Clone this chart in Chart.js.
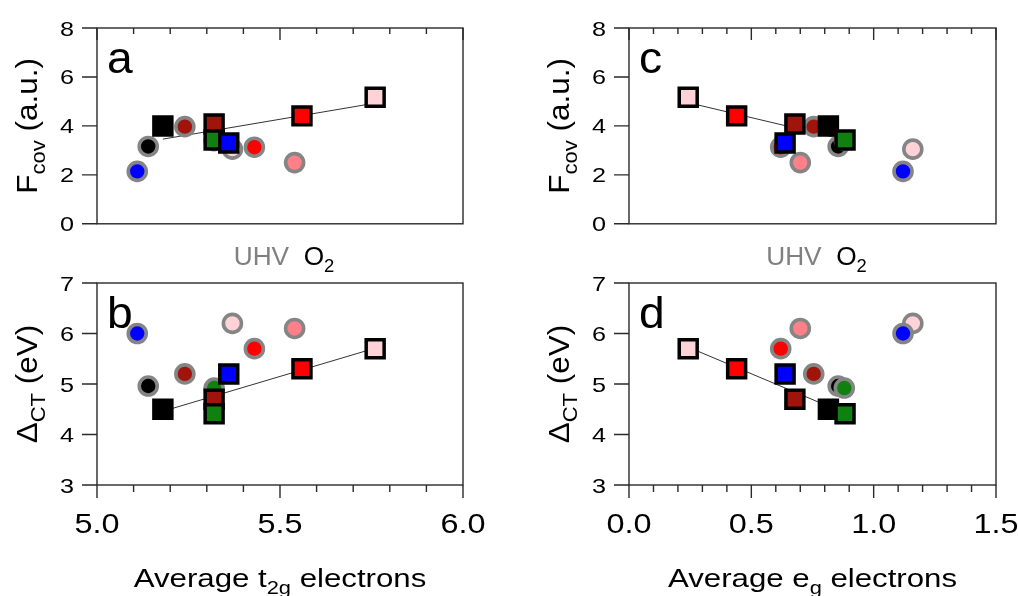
<!DOCTYPE html>
<html>
<head>
<meta charset="utf-8">
<script src="https://cdn.jsdelivr.net/npm/chart.js@4.4.1/dist/chart.umd.min.js"></script>
<style>
  html, body { margin: 0; padding: 0; background: #ffffff; }
  body { width: 1018px; height: 596px; position: relative; overflow: hidden; }
  canvas { position: absolute; }
</style>
</head>
<body>
<canvas id="pa" width="500" height="240" style="left:0px;top:0px"></canvas>
<canvas id="pb" width="500" height="356" style="left:0px;top:240px"></canvas>
<canvas id="pc" width="518" height="240" style="left:500px;top:0px"></canvas>
<canvas id="pd" width="518" height="356" style="left:500px;top:240px"></canvas>
<script>
// ---------------- data ----------------
// samples, identified by their marker colour
const samples      = ['pink', 'salmon', 'red', 'darkred', 'black', 'green', 'blue'];
const sampleColors = ['#ffd2d8', '#ff8088', '#ff0000', '#a0140c', '#000000', '#108010', '#0000ff'];

// UHV (grey-ringed circles)
const t2gUHV  = [5.37, 5.54, 5.43, 5.24, 5.14, 5.32, 5.11];
const egUHV   = [1.16, 0.70, 0.62, 0.755, 0.855, 0.88, 1.12];
const fcovUHV = [3.05, 2.50, 3.13, 3.97, 3.16, 3.40, 2.14];
const dctUHV  = [6.20, 6.10, 5.70, 5.20, 4.96, 4.92, 6.00];

// O2 (black-framed squares); salmon sample has no O2 point
const t2gO2   = [5.76, null, 5.56, 5.32, 5.18, 5.32, 5.36];
const egO2    = [0.242, null, 0.44, 0.678, 0.815, 0.883, 0.638];
const fcovO2  = [5.17, null, 4.41, 4.08, 4.00, 3.42, 3.30];
const dctO2   = [5.70, null, 5.30, 4.70, 4.50, 4.41, 5.20];

// linear-fit lines through the O2 points (end points)
const fitT2gX    = [5.18, 5.76];
const fitFcovT2g = [3.46, 4.93];
const fitDctT2g  = [4.46, 5.71];
const fitEgX     = [0.242, 0.883];
const fitFcovEg  = [4.95, 3.43];
const fitDctEg   = [5.73, 4.42];

// tick labels
const t2gTicks  = [5.0, 5.5, 6.0];
const t2gMinor  = [5.1, 5.2, 5.3, 5.4, 5.6, 5.7, 5.8, 5.9];
const egTicks   = [0.0, 0.5, 1.0, 1.5];
const egMinor   = [0.1, 0.2, 0.3, 0.4, 0.6, 0.7, 0.8, 0.9, 1.1, 1.2, 1.3, 1.4];
const fcovTicks = [0, 2, 4, 6, 8];
const dctTicks  = [3, 4, 5, 6, 7];

// ---------------- helpers ----------------
const FONT = '"Liberation Sans", Arial, Helvetica, sans-serif';
const SUB = 0.7;

function pts(xs, ys) {
  const out = [];
  for (let i = 0; i < xs.length; i++) {
    if (xs[i] === null || ys[i] === null) continue;
    out.push({ x: xs[i], y: ys[i] });
  }
  return out;
}
function colsFor(xs) {
  const c = [];
  for (let i = 0; i < xs.length; i++) if (xs[i] !== null) c.push(sampleColors[i]);
  return c;
}

// draws rich text (with subscripts) in a local frame; (x,y) is the baseline anchor
function drawRich(ctx, parts, x, y, o) {
  const size = o.size, sx = o.sx || 1;
  ctx.save();
  ctx.translate(x, y);
  if (o.rotate) ctx.rotate(o.rotate);
  ctx.scale(sx, 1);
  ctx.textBaseline = 'alphabetic';
  ctx.textAlign = 'left';
  const widths = parts.map(p => {
    ctx.font = (p.sub ? size * SUB : size) + 'px ' + FONT;
    return ctx.measureText(p.t).width;
  });
  const total = widths.reduce((a, b) => a + b, 0);
  let cx = o.align === 'center' ? -total / 2 : (o.align === 'right' ? -total : 0);
  parts.forEach((p, i) => {
    ctx.font = (p.sub ? size * SUB : size) + 'px ' + FONT;
    ctx.fillStyle = p.color || o.color || '#000';
    ctx.fillText(p.t, cx, p.sub ? size * 0.27 : 0);
    cx += widths[i];
  });
  ctx.restore();
}

const decor = {
  id: 'decor',
  afterDraw(chart) {
    const cfg = chart.options.plugins.decor;
    const ctx = chart.ctx, a = chart.chartArea;
    const xs = chart.scales.x, ys = chart.scales.y;
    ctx.save();
    ctx.strokeStyle = '#2a2a2a';
    ctx.lineWidth = 1.4;
    ctx.strokeRect(a.left, a.top, a.right - a.left, a.bottom - a.top);
    ctx.beginPath();
    // y ticks (outward, left)
    cfg.yTicks.forEach(v => {
      const py = ys.getPixelForValue(v);
      ctx.moveTo(a.left - 15, py); ctx.lineTo(a.left, py);
    });
    // x ticks
    if (cfg.xSide === 'top') {
      cfg.xTicks.forEach(v => { const px = xs.getPixelForValue(v); ctx.moveTo(px, a.top); ctx.lineTo(px, a.top + 12); });
      cfg.xMinor.forEach(v => { const px = xs.getPixelForValue(v); ctx.moveTo(px, a.top); ctx.lineTo(px, a.top + 6); });
    } else {
      cfg.xTicks.forEach(v => { const px = xs.getPixelForValue(v); ctx.moveTo(px, a.bottom); ctx.lineTo(px, a.bottom + 13); });
      cfg.xMinor.forEach(v => { const px = xs.getPixelForValue(v); ctx.moveTo(px, a.bottom); ctx.lineTo(px, a.bottom + 7); });
    }
    ctx.stroke();
    ctx.restore();

    // y tick labels
    cfg.yTicks.forEach(v => {
      const py = ys.getPixelForValue(v);
      drawRich(ctx, [{ t: String(v) }], a.left - 23, py + 7.5, { size: 21, sx: 1.2, align: 'right' });
    });
    // x tick labels + x title
    if (cfg.xSide === 'bottom') {
      cfg.xTicks.forEach(v => {
        const px = xs.getPixelForValue(v);
        drawRich(ctx, [{ t: v.toFixed(1) }], px, a.bottom + 48, { size: 27, sx: 1.2, align: 'center' });
      });
      drawRich(ctx, cfg.xTitle, (a.left + a.right) / 2, a.bottom + 102, { size: 26, sx: 1.2, align: 'center' });
      // UHV / O2 legend text above the panel
      drawRich(ctx, [{ t: 'UHV', color: '#808080' }, { t: '  ' }, { t: 'O' }, { t: '2', sub: true }],
        (a.left + a.right) / 2 + 4, a.top - 18, { size: 25, sx: 1.05, align: 'center' });
    }
    // y title
    drawRich(ctx, cfg.yTitle, a.left - 60, (a.top + a.bottom) / 2, { size: 30, sx: 1.05, align: 'center', rotate: -Math.PI / 2 });
    // panel letter
    drawRich(ctx, [{ t: cfg.letter }], a.left + 10, a.top + cfg.letterDy, { size: 44, sx: 1.05, align: 'left' });
  }
};

function makePanel(id, o) {
  const canvas = document.getElementById(id);
  return new Chart(canvas, {
    type: 'scatter',
    data: {
      datasets: [
        {
          label: 'O2',
          data: pts(o.xO2, o.yO2),
          pointStyle: 'rect',
          pointRadius: 12.7,
          pointBorderWidth: 3.5,
          pointBackgroundColor: colsFor(o.xO2),
          pointBorderColor: '#000000',
          order: 0
        },
        {
          label: 'UHV',
          data: pts(o.xUHV, o.yUHV),
          pointStyle: 'circle',
          pointRadius: 9,
          pointBorderWidth: 3.6,
          pointBackgroundColor: colsFor(o.xUHV),
          pointBorderColor: '#858585',
          order: 1
        },
        {
          label: 'fit',
          data: pts(o.fitX, o.fitY),
          showLine: true,
          pointRadius: 0,
          borderWidth: 1,
          borderColor: '#333333',
          order: 2
        }
      ]
    },
    options: {
      responsive: false,
      animation: false,
      devicePixelRatio: 1,
      layout: { padding: { left: 0, right: o.padRight, top: o.padTop, bottom: 0 } },
      plugins: {
        legend: { display: false },
        tooltip: { enabled: false },
        decor: o.decor
      },
      scales: {
        x: {
          type: 'linear', min: o.xMin, max: o.xMax,
          ticks: { display: false }, grid: { display: false, drawTicks: false }, border: { display: false },
          afterFit: s => { s.height = o.xHeight; }
        },
        y: {
          type: 'linear', min: o.yMin, max: o.yMax,
          ticks: { display: false }, grid: { display: false, drawTicks: false }, border: { display: false },
          afterFit: s => { s.width = o.yWidth; }
        }
      }
    },
    plugins: [decor]
  });
}

const yTitleF = [{ t: 'F' }, { t: 'cov', sub: true }, { t: ' (a.u.)' }];
const yTitleD = [{ t: '\u0394' }, { t: 'CT', sub: true }, { t: ' (eV)' }];

makePanel('pa', {
  xUHV: t2gUHV, yUHV: fcovUHV, xO2: t2gO2, yO2: fcovO2, fitX: fitT2gX, fitY: fitFcovT2g,
  xMin: 5.0, xMax: 6.0, yMin: 0, yMax: 8,
  padRight: 37, padTop: 28, xHeight: 11, yWidth: 97,
  decor: { yTicks: fcovTicks, xTicks: t2gTicks, xMinor: t2gMinor, xSide: 'top', yTitle: yTitleF, letter: 'a', letterDy: 45 }
});
makePanel('pb', {
  xUHV: t2gUHV, yUHV: dctUHV, xO2: t2gO2, yO2: dctO2, fitX: fitT2gX, fitY: fitDctT2g,
  xMin: 5.0, xMax: 6.0, yMin: 3, yMax: 7,
  padRight: 37, padTop: 43, xHeight: 111, yWidth: 97,
  decor: { yTicks: dctTicks, xTicks: t2gTicks, xMinor: t2gMinor, xSide: 'bottom', yTitle: yTitleD, letter: 'b',
           letterDy: 45, xTitle: [{ t: 'Average t' }, { t: '2g', sub: true }, { t: ' electrons' }] }
});
makePanel('pc', {
  xUHV: egUHV, yUHV: fcovUHV, xO2: egO2, yO2: fcovO2, fitX: fitEgX, fitY: fitFcovEg,
  xMin: 0, xMax: 1.5, yMin: 0, yMax: 8,
  padRight: 22, padTop: 28, xHeight: 11, yWidth: 129,
  decor: { yTicks: fcovTicks, xTicks: egTicks, xMinor: egMinor, xSide: 'top', yTitle: yTitleF, letter: 'c', letterDy: 45 }
});
makePanel('pd', {
  xUHV: egUHV, yUHV: dctUHV, xO2: egO2, yO2: dctO2, fitX: fitEgX, fitY: fitDctEg,
  xMin: 0, xMax: 1.5, yMin: 3, yMax: 7,
  padRight: 22, padTop: 43, xHeight: 111, yWidth: 129,
  decor: { yTicks: dctTicks, xTicks: egTicks, xMinor: egMinor, xSide: 'bottom', yTitle: yTitleD, letter: 'd',
           letterDy: 45, xTitle: [{ t: 'Average e' }, { t: 'g', sub: true }, { t: ' electrons' }] }
});
</script>
</body>
</html>
